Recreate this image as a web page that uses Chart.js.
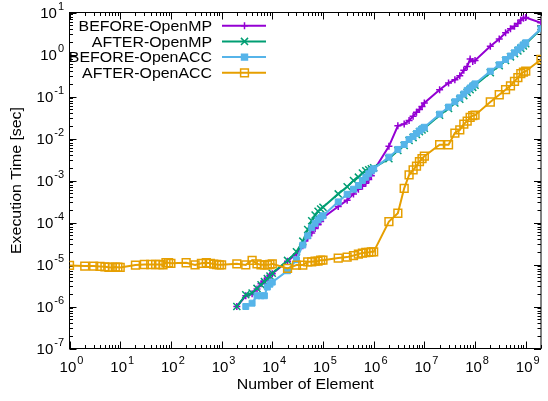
<!DOCTYPE html>
<html>
<head>
<meta charset="utf-8">
<script src="https://cdn.jsdelivr.net/npm/chart.js@4.4.1/dist/chart.umd.min.js"></script>
<style>
  html, body { margin: 0; padding: 0; background: #ffffff; }
  #wrap { width: 548px; height: 401px; }
</style>
</head>
<body>
<div id="wrap"><canvas id="timeChart" width="548" height="401"></canvas></div>
<script>
const FONT = "'Liberation Sans', Arial, Helvetica, sans-serif";
const TEXT_STRETCH = 1.06;

const elements = [
  1, 2, 3, 4, 5, 6, 7, 8, 9,
  1e1, 2e1, 3e1, 4e1, 5e1, 6e1, 7e1, 8e1, 9e1,
  1e2, 2e2, 3e2, 4e2, 5e2, 6e2, 7e2, 8e2, 9e2,
  1e3, 2e3, 3e3, 4e3, 5e3, 6e3, 7e3, 8e3, 9e3,
  1e4, 2e4, 3e4, 4e4, 5e4, 6e4, 7e4, 8e4, 9e4,
  1e5, 2e5, 3e5, 4e5, 5e5, 6e5, 7e5, 8e5, 9e5,
  1e6, 2e6, 3e6, 4e6, 5e6, 6e6, 7e6, 8e6, 9e6,
  1e7, 2e7, 3e7, 4e7, 5e7, 6e7, 7e7, 8e7, 9e7,
  1e8, 2e8, 3e8, 4e8, 5e8, 6e8, 7e8, 8e8, 9e8,
  1e9, 2e9
];

const beforeOpenMP = [
  null, null, null, null, null, null, null, null, null,
  null, null, null, null, null, null, null, null, null,
  null, null, null, null, null, null, null, null, null,
  null, 1.0e-6, 1.8e-6, 2.0e-6, 2.6e-6, 3.5e-6, 4.0e-6, 4.8e-6, 5.5e-6,
  6.0e-6, 1.2e-5, 1.8e-5, 2.8e-5, 4.2e-5, 5.6e-5, 7.2e-5, 8.8e-5, 1.05e-4,
  1.3e-4, 2.4e-4, 3.4e-4, 4.8e-4, 6.2e-4, 7.3e-4, 8.6e-4, 1.05e-3, 1.3e-3,
  1.7e-3, 6.5e-3, 2.0e-2, 2.2e-2, 2.7e-2, 3.4e-2, 4.2e-2, 4.9e-2, 5.8e-2,
  7.0e-2, 0.145, 0.21, 0.25, 0.31, 0.42, 0.52, 0.78, 0.68,
  0.72, 1.57, 2.35, 3.3, 4.1, 4.7, 5.5, 6.6, 7.3,
  7.6, 5.7
];

const afterOpenMP = [
  null, null, null, null, null, null, null, null, null,
  null, null, null, null, null, null, null, null, null,
  null, null, null, null, null, null, null, null, null,
  null, 1.0e-6, 1.9e-6, 2.1e-6, 2.7e-6, 3.3e-6, 3.9e-6, 4.6e-6, 5.3e-6,
  6.2e-6, 1.25e-5, 2.0e-5, 3.6e-5, 6.8e-5, 1.1e-4, 1.5e-4, 1.85e-4, 2.1e-4,
  2.3e-4, 4.8e-4, 7.1e-4, 1.0e-3, 1.2e-3, 1.5e-3, 1.7e-3, 1.8e-3, 1.9e-3,
  2.0e-3, 3.3e-3, 5.2e-3, 6.8e-3, 9.0e-3, 1.05e-2, 1.25e-2, 1.45e-2, 1.6e-2,
  1.75e-2, 3.6e-2, 5.2e-2, 7.0e-2, 8.6e-2, 0.105, 0.125, 0.145, 0.165,
  0.185, 0.37, 0.54, 0.72, 0.88, 1.05, 1.22, 1.4, 1.6,
  1.8, 4.0
];

const beforeOpenACC = [
  null, null, null, null, null, null, null, null, null,
  null, null, null, null, null, null, null, null, null,
  null, null, null, null, null, null, null, null, null,
  null, null, 1.0e-6, 1.2e-6, 1.8e-6, 1.8e-6, 1.8e-6, 2.9e-6, 3.4e-6,
  3.8e-6, 7.1e-6, 1.3e-5, 2.9e-5, 4.8e-5, 7.5e-5, 9.5e-5, 1.15e-4, 1.3e-4,
  1.45e-4, 3.1e-4, 4.7e-4, 6.2e-4, 7.6e-4, 1.0e-3, 1.2e-3, 1.45e-3, 1.7e-3,
  1.9e-3, 3.6e-3, 5.5e-3, 7.2e-3, 9.5e-3, 1.12e-2, 1.32e-2, 1.52e-2, 1.7e-2,
  1.85e-2, 3.8e-2, 5.6e-2, 7.5e-2, 9.3e-2, 0.115, 0.14, 0.16, 0.18,
  0.2, 0.4, 0.57, 0.76, 0.92, 1.1, 1.3, 1.5, 1.7,
  1.9, 4.1
];

const afterOpenACC = [
  9.5e-6, 9.2e-6, 9.2e-6, 9.0e-6, 8.8e-6, 8.6e-6, 8.5e-6, 8.7e-6, 8.6e-6,
  8.5e-6, 9.7e-6, 1.0e-5, 1.0e-5, 1.0e-5, 1.0e-5, 9.8e-6, 1.1e-5, 1.1e-5,
  1.07e-5, 1.1e-5, 9.8e-6, 1.07e-5, 1.1e-5, 1.07e-5, 1.02e-5, 1.0e-5, 9.8e-6,
  9.8e-6, 1.04e-5, 9.8e-6, 1.26e-5, 1.04e-5, 9.8e-6, 9.8e-6, 9.8e-6, 1.0e-5,
  1.04e-5, 8.1e-6, 9.7e-6, 9.7e-6, 1.16e-5, 1.16e-5, 1.2e-5, 1.2e-5, 1.27e-5,
  1.27e-5, 1.42e-5, 1.5e-5, 1.63e-5, 1.77e-5, 1.87e-5, 1.93e-5, 1.95e-5, 2.0e-5,
  2.0e-5, 1.05e-4, 1.66e-4, 6.5e-4, 1.36e-3, 1.8e-3, 2.2e-3, 2.8e-3, 3.3e-3,
  3.8e-3, 7.1e-3, 7.1e-3, 1.35e-2, 1.6e-2, 2.2e-2, 2.6e-2, 3.2e-2, 3.5e-2,
  3.6e-2, 7.4e-2, 0.11, 0.145, 0.18, 0.23, 0.28, 0.35, 0.38,
  0.40, 0.76
];

const seriesNames = ["BEFORE-OpenMP", "AFTER-OpenMP", "BEFORE-OpenACC", "AFTER-OpenACC"];
const seriesColors = ["#9400d3", "#009e73", "#56b4e9", "#e69f00"];

const xTickPowers = [0, 1, 2, 3, 4, 5, 6, 7, 8, 9];
const yTickPowers = [1, 0, -1, -2, -3, -4, -5, -6, -7];

function toPoints(values) {
  const points = [];
  values.forEach(function (v, i) {
    if (v !== null) {
      points.push({ x: elements[i], y: v });
    }
  });
  return points;
}

// text drawn a little wider than the font's own advance
function fillWide(ctx, text, x, y, align) {
  ctx.save();
  ctx.translate(x, y);
  ctx.scale(TEXT_STRETCH, 1);
  ctx.textAlign = align;
  ctx.fillText(text, 0, 0);
  ctx.restore();
}

// small marker drawer used by the key
function drawMarker(ctx, style, x, y, r, color, fill) {
  ctx.save();
  ctx.strokeStyle = color;
  ctx.lineWidth = 1.5;
  ctx.beginPath();
  if (style === "cross") {
    ctx.moveTo(x - r, y); ctx.lineTo(x + r, y);
    ctx.moveTo(x, y - r); ctx.lineTo(x, y + r);
    ctx.stroke();
  } else if (style === "crossRot") {
    const d = r * Math.SQRT1_2;
    ctx.moveTo(x - d, y - d); ctx.lineTo(x + d, y + d);
    ctx.moveTo(x - d, y + d); ctx.lineTo(x + d, y - d);
    ctx.stroke();
  } else {
    const s = r * Math.SQRT1_2;
    ctx.rect(x - s, y - s, 2 * s, 2 * s);
    if (fill) {
      ctx.fillStyle = fill;
      ctx.fill();
    }
    ctx.stroke();
  }
  ctx.restore();
}

// "10" with a raised exponent; align is "center" or "right"
function drawPower(ctx, power, x, y, align) {
  const base = "10";
  const exp = String(power);
  ctx.font = "15px " + FONT;
  const wb = ctx.measureText(base).width;
  ctx.font = "11px " + FONT;
  const we = ctx.measureText(exp).width;
  const total = wb + we + 1;
  let left = align === "right" ? x - total : x - total / 2;
  ctx.textAlign = "left";
  ctx.textBaseline = "alphabetic";
  ctx.font = "15px " + FONT;
  ctx.fillText(base, left, y);
  ctx.font = "11px " + FONT;
  ctx.fillText(exp, left + wb + 1, y - 8);
}

const framePlugin = {
  id: "gnuFrame",
  beforeDatasetsDraw: function (chart) {
    const ctx = chart.ctx;
    const area = chart.chartArea;
    const xs = chart.scales.x;
    const ys = chart.scales.y;

    ctx.save();
    ctx.strokeStyle = "#000000";
    ctx.lineWidth = 1;

    // minor and major ticks on all four sides
    ctx.beginPath();
    for (let p = 0; p <= 9; p++) {
      for (let m = 1; m <= 9; m++) {
        const v = m * Math.pow(10, p);
        if (v > xs.max) continue;
        const px = Math.round(xs.getPixelForValue(v)) + 0.5;
        const len = m === 1 ? 7 : 3.5;
        ctx.moveTo(px, area.bottom); ctx.lineTo(px, area.bottom - len);
        ctx.moveTo(px, area.top); ctx.lineTo(px, area.top + len);
      }
    }
    for (let p = -7; p <= 1; p++) {
      for (let m = 1; m <= 9; m++) {
        const v = m * Math.pow(10, p);
        if (v > ys.max) continue;
        const py = Math.round(ys.getPixelForValue(v)) + 0.5;
        const len = m === 1 ? 7 : 3.5;
        ctx.moveTo(area.left, py); ctx.lineTo(area.left + len, py);
        ctx.moveTo(area.right, py); ctx.lineTo(area.right - len, py);
      }
    }
    ctx.stroke();

    ctx.strokeRect(area.left, area.top, area.right - area.left, area.bottom - area.top);

    ctx.fillStyle = "#000000";
    xTickPowers.forEach(function (p) {
      drawPower(ctx, p, xs.getPixelForValue(Math.pow(10, p)) + 2, 372, "center");
    });
    yTickPowers.forEach(function (p) {
      drawPower(ctx, p, 64, ys.getPixelForValue(Math.pow(10, p)) + 5.5, "right");
    });

    // axis titles
    ctx.font = "15px " + FONT;
    ctx.textBaseline = "middle";
    fillWide(ctx, "Number of Element", (area.left + area.right) / 2, 385, "center");
    ctx.translate(17, (area.top + area.bottom) / 2);
    ctx.rotate(-Math.PI / 2);
    fillWide(ctx, "Execution Time [sec]", 0, 0, "center");
    ctx.restore();
  },
  afterDraw: function (chart) {
    const ctx = chart.ctx;
    ctx.save();
    chart.data.datasets.forEach(function (ds, i) {
      const y = 25.7 + i * 15.7;
      ctx.font = "15px " + FONT;
      ctx.fillStyle = "#000000";
      ctx.textBaseline = "middle";
      fillWide(ctx, ds.label, 212, y + 1, "right");
      ctx.strokeStyle = ds.borderColor;
      ctx.lineWidth = 2;
      ctx.beginPath();
      ctx.moveTo(222, y);
      ctx.lineTo(266, y);
      ctx.stroke();
      drawMarker(ctx, ds.pointStyle, 244.5, y, ds.pointRadius, ds.borderColor, ds.legendFill);
    });
    ctx.restore();
  }
};

const ctx = document.getElementById("timeChart").getContext("2d");

const timeChart = new Chart(ctx, {
  type: "line",
  data: {
    datasets: [
      {
        label: seriesNames[0],
        data: toPoints(beforeOpenMP),
        borderColor: seriesColors[0],
        backgroundColor: seriesColors[0],
        pointStyle: "cross",
        pointRadius: 3.5,
        pointBorderWidth: 1.5,
        order: 3
      },
      {
        label: seriesNames[1],
        data: toPoints(afterOpenMP),
        borderColor: seriesColors[1],
        backgroundColor: seriesColors[1],
        pointStyle: "crossRot",
        pointRadius: 5,
        pointBorderWidth: 1.5,
        order: 2
      },
      {
        label: seriesNames[2],
        data: toPoints(beforeOpenACC),
        borderColor: seriesColors[2],
        backgroundColor: seriesColors[2],
        legendFill: seriesColors[2],
        pointStyle: "rect",
        pointRadius: 4.2,
        pointBorderWidth: 1,
        order: 1
      },
      {
        label: seriesNames[3],
        data: toPoints(afterOpenACC),
        borderColor: seriesColors[3],
        backgroundColor: "rgba(255,255,255,0)",
        pointStyle: "rect",
        pointRadius: 5.5,
        pointBorderWidth: 1.5,
        order: 0
      }
    ]
  },
  options: {
    responsive: false,
    animation: false,
    devicePixelRatio: 1,
    elements: {
      line: { borderWidth: 2, tension: 0 }
    },
    layout: {
      padding: { left: 69.5, top: 12.5, right: 0.5, bottom: 52.5 }
    },
    scales: {
      x: {
        type: "logarithmic",
        display: false,
        min: 1,
        max: 2e9
      },
      y: {
        type: "logarithmic",
        display: false,
        min: 1e-7,
        max: 10
      }
    },
    plugins: {
      legend: { display: false },
      tooltip: { enabled: false }
    }
  },
  plugins: [framePlugin]
});
</script>
</body>
</html>
